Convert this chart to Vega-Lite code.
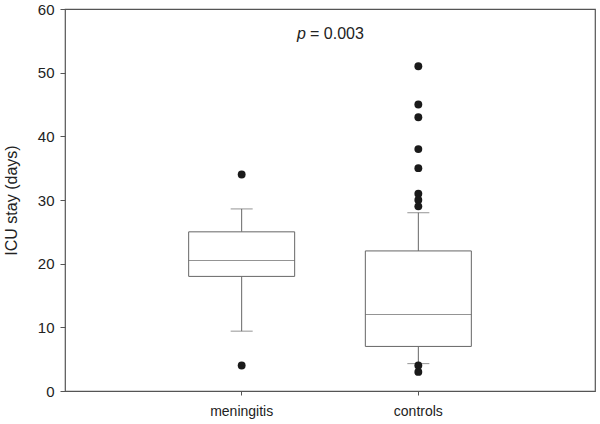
{
  "$schema": "https://vega.github.io/schema/vega-lite/v6.json",
  "width": 530,
  "height": 382,
  "autosize": {"type": "none"},
  "padding": {"left": 65, "top": 9, "right": 5, "bottom": 33},
  "background": "white",
  "config": {
    "font": "Liberation Sans",
    "view": {"stroke": "#555555", "strokeWidth": 1.2},
    "axis": {"grid": false, "domain": false, "tickColor": "#555555", "labelColor": "#222222", "labelFont": "Liberation Sans", "titleFont": "Liberation Sans", "titleColor": "#222222", "titleFontWeight": "normal"},
    "axisX": {"tickSize": 4, "labelFontSize": 14, "labelPadding": 9, "labelAngle": 0, "title": null},
    "axisY": {"tickSize": 5, "labelFontSize": 15, "labelPadding": 6, "titleFontSize": 16, "titlePadding": 18}
  },
  "datasets": {
    "stats": [
      {"group": "meningitis", "lower": 9.4, "q1": 18, "median": 20.5, "q3": 25, "upper": 28.6},
      {"group": "controls", "lower": 4.3, "q1": 7, "median": 12, "q3": 22, "upper": 28}
    ],
    "outliers": [
      {"group": "meningitis", "days": 34},
      {"group": "meningitis", "days": 4},
      {"group": "controls", "days": 51},
      {"group": "controls", "days": 45},
      {"group": "controls", "days": 43},
      {"group": "controls", "days": 38},
      {"group": "controls", "days": 35},
      {"group": "controls", "days": 31},
      {"group": "controls", "days": 30},
      {"group": "controls", "days": 29},
      {"group": "controls", "days": 4},
      {"group": "controls", "days": 3}
    ],
    "note": [{"label": "p"}]
  },
  "encoding": {
    "x": {"field": "group", "type": "nominal", "scale": {"domain": ["meningitis", "controls"], "paddingInner": 0.4, "paddingOuter": 0.7}}
  },
  "layer": [
    {
      "data": {"name": "stats"},
      "mark": {"type": "rule", "color": "#666666", "strokeWidth": 1},
      "encoding": {
        "y": {"field": "lower", "type": "quantitative", "title": "ICU stay (days)", "scale": {"domain": [0, 60], "nice": false}, "axis": {"values": [0, 10, 20, 30, 40, 50, 60]}},
        "y2": {"field": "q1"}
      }
    },
    {
      "data": {"name": "stats"},
      "mark": {"type": "rule", "color": "#666666", "strokeWidth": 1},
      "encoding": {
        "y": {"field": "q3", "type": "quantitative", "title": "ICU stay (days)", "axis": {"values": [0, 10, 20, 30, 40, 50, 60]}},
        "y2": {"field": "upper"}
      }
    },
    {
      "data": {"name": "stats"},
      "mark": {"type": "bar", "fill": "white", "stroke": "#666666", "strokeWidth": 1},
      "encoding": {
        "y": {"field": "q1", "type": "quantitative", "title": "ICU stay (days)", "axis": {"values": [0, 10, 20, 30, 40, 50, 60]}},
        "y2": {"field": "q3"}
      }
    },
    {
      "data": {"name": "stats"},
      "mark": {"type": "tick", "color": "#666666", "size": 106, "thickness": 1},
      "encoding": {
        "y": {"field": "median", "type": "quantitative", "title": "ICU stay (days)", "axis": {"values": [0, 10, 20, 30, 40, 50, 60]}}
      }
    },
    {
      "data": {"name": "stats"},
      "mark": {"type": "tick", "color": "#666666", "size": 22, "thickness": 1},
      "encoding": {
        "y": {"field": "lower", "type": "quantitative", "title": "ICU stay (days)", "axis": {"values": [0, 10, 20, 30, 40, 50, 60]}}
      }
    },
    {
      "data": {"name": "stats"},
      "mark": {"type": "tick", "color": "#666666", "size": 22, "thickness": 1},
      "encoding": {
        "y": {"field": "upper", "type": "quantitative", "title": "ICU stay (days)", "axis": {"values": [0, 10, 20, 30, 40, 50, 60]}}
      }
    },
    {
      "data": {"name": "outliers"},
      "mark": {"type": "point", "filled": true, "color": "#1a1a1a", "opacity": 1, "size": 62},
      "encoding": {
        "y": {"field": "days", "type": "quantitative", "title": "ICU stay (days)", "axis": {"values": [0, 10, 20, 30, 40, 50, 60]}}
      }
    },
    {
      "data": {"name": "note"},
      "mark": {"type": "text", "text": "p", "fontStyle": "italic", "fontSize": 16, "align": "right", "baseline": "middle", "dx": -24, "color": "#222222"},
      "encoding": {
        "x": null,
        "y": {"datum": 56, "type": "quantitative", "title": "ICU stay (days)", "axis": {"values": [0, 10, 20, 30, 40, 50, 60]}}
      }
    },
    {
      "data": {"name": "note"},
      "mark": {"type": "text", "text": "= 0.003", "fontSize": 16, "align": "left", "baseline": "middle", "dx": -20, "color": "#222222"},
      "encoding": {
        "x": null,
        "y": {"datum": 56, "type": "quantitative", "title": "ICU stay (days)", "axis": {"values": [0, 10, 20, 30, 40, 50, 60]}}
      }
    }
  ]
}
